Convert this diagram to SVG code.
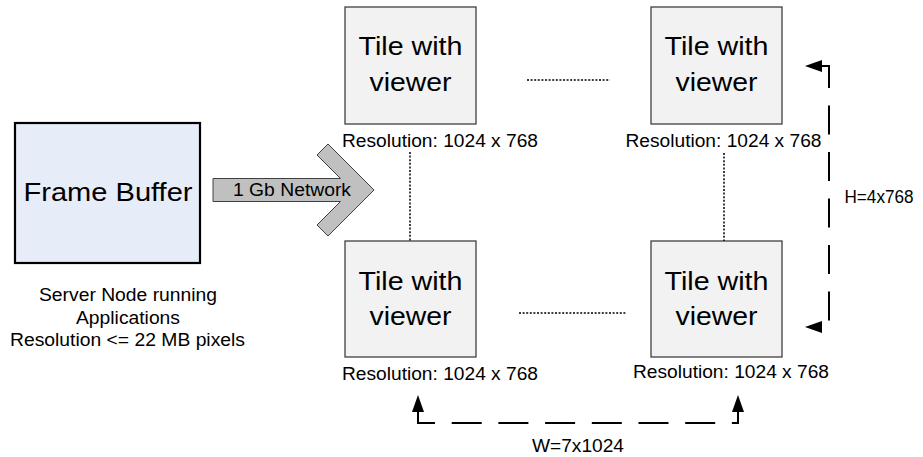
<svg xmlns="http://www.w3.org/2000/svg" width="923" height="457" viewBox="0 0 923 457">
  <style>
    text { font-family: "Liberation Sans", Arial, sans-serif; fill: #000; }
    .big { font-size: 26.5px; text-anchor: middle; }
    .small { font-size: 17.5px; text-anchor: middle; }
    .tile { fill: #f2f2f2; stroke: #404040; stroke-width: 1.3; }
    .fb { fill: #e6ecf8; stroke: #000; stroke-width: 2.2; }
    .dotted { fill: none; stroke: #000; stroke-width: 1.5; stroke-dasharray: 2 1.6; }
    .dim { fill: none; stroke: #000; stroke-width: 2; }
  </style>
  <defs>
    <marker id="tri" markerUnits="userSpaceOnUse" markerWidth="18" markerHeight="13" refX="0" refY="6" orient="auto-start-reverse" viewBox="0 0 18 12">
      <path d="M0,0 L17,6 L0,12 Z" fill="#000"/>
    </marker>
  </defs>
  <rect width="923" height="457" fill="#fff"/>

  <!-- server node -->
  <g id="frame-buffer">
    <rect class="fb" x="15" y="123" width="185" height="140"/>
    <text class="big" x="108" y="201" textLength="169" lengthAdjust="spacingAndGlyphs">Frame Buffer</text>
    <text class="small" x="128" y="300.5" textLength="178" lengthAdjust="spacingAndGlyphs">Server Node running</text>
    <text class="small" x="128" y="323.5" textLength="104" lengthAdjust="spacingAndGlyphs">Applications</text>
    <text class="small" x="127.5" y="346" textLength="235" lengthAdjust="spacingAndGlyphs">Resolution &lt;= 22 MB pixels</text>
  </g>

  <!-- network block arrow -->
  <g id="network">
    <polygon points="213,178.5 340.5,178.5 317,155 328,144 374,190 328,236 317,225 340.5,201.5 213,201.5" fill="#c0c0c0" stroke="#404040" stroke-width="1"/>
    <text class="small" x="292" y="196" textLength="118" lengthAdjust="spacingAndGlyphs">1 Gb Network</text>
  </g>

  <!-- display tiles -->
  <g id="tile-top-left">
    <rect class="tile" x="345" y="7" width="131" height="117"/>
    <text class="big" x="410.5" y="55" textLength="104" lengthAdjust="spacingAndGlyphs">Tile with</text>
    <text class="big" x="410.5" y="91" textLength="82" lengthAdjust="spacingAndGlyphs">viewer</text>
    <text class="small" x="440" y="147" textLength="196" lengthAdjust="spacingAndGlyphs">Resolution: 1024 x 768</text>
  </g>
  <g id="tile-top-right">
    <rect class="tile" x="651" y="7" width="131" height="117"/>
    <text class="big" x="716.5" y="55" textLength="104" lengthAdjust="spacingAndGlyphs">Tile with</text>
    <text class="big" x="716.5" y="91" textLength="82" lengthAdjust="spacingAndGlyphs">viewer</text>
    <text class="small" x="723.5" y="147" textLength="196" lengthAdjust="spacingAndGlyphs">Resolution: 1024 x 768</text>
  </g>
  <g id="tile-bottom-left">
    <rect class="tile" x="345" y="241" width="131" height="116"/>
    <text class="big" x="410.5" y="290" textLength="104" lengthAdjust="spacingAndGlyphs">Tile with</text>
    <text class="big" x="410.5" y="325" textLength="82" lengthAdjust="spacingAndGlyphs">viewer</text>
    <text class="small" x="440" y="380" textLength="196" lengthAdjust="spacingAndGlyphs">Resolution: 1024 x 768</text>
  </g>
  <g id="tile-bottom-right">
    <rect class="tile" x="651" y="241" width="131" height="116"/>
    <text class="big" x="716.5" y="290" textLength="104" lengthAdjust="spacingAndGlyphs">Tile with</text>
    <text class="big" x="716.5" y="325" textLength="82" lengthAdjust="spacingAndGlyphs">viewer</text>
    <text class="small" x="731" y="377.5" textLength="196" lengthAdjust="spacingAndGlyphs">Resolution: 1024 x 768</text>
  </g>

  <!-- tile links and wall dimensions -->
  <g id="connectors">
    <line class="dotted" x1="527" y1="80" x2="610" y2="80"/>
    <line class="dotted" x1="519" y1="313" x2="627" y2="313"/>
    <line class="dotted" x1="410" y1="152" x2="410" y2="241"/>
    <line class="dotted" x1="724" y1="153" x2="724" y2="241"/>
    <path class="dim" d="M822,66 H829 V327 H822" stroke-dasharray="29 17.5" marker-start="url(#tri)" marker-end="url(#tri)"/>
    <path class="dim" d="M418,412 V423 H738 V412" stroke-dasharray="30 16.7" stroke-dashoffset="2" marker-start="url(#tri)" marker-end="url(#tri)"/>
  </g>

  <g id="dimension-labels">
    <text class="small" x="879" y="203" font-size="17.5" textLength="69" lengthAdjust="spacingAndGlyphs">H=4x768</text>
    <text class="small" x="578" y="451.5" textLength="92" lengthAdjust="spacingAndGlyphs">W=7x1024</text>
  </g>
</svg>
